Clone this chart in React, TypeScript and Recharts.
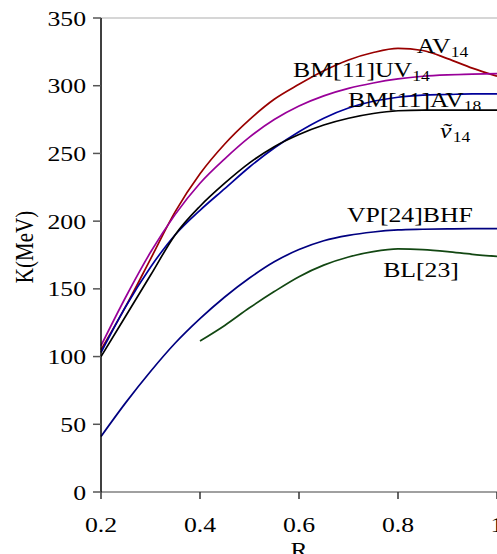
import React from "react";
import {
  LineChart,
  Line,
  XAxis,
  YAxis,
  ReferenceLine,
  ReferenceDot,
} from "recharts";

// R grid shared by every curve
const rValues = [0.2, 0.25, 0.3, 0.35, 0.4, 0.45, 0.5, 0.55, 0.6, 0.65, 0.7, 0.75, 0.8, 0.85, 0.9, 0.95, 1.0];

const av14 = [105, 137, 172, 207, 235, 257, 275, 290, 301, 311, 319, 324.5, 327.5, 326, 320, 313, 307];
const uv14 = [108, 144, 177, 205, 228, 246, 262, 275, 285, 292.5, 298, 302, 305, 307, 308, 308.5, 309];
const av18 = [103, 137, 166, 190, 208, 224, 240, 254, 266, 276, 283.5, 288.5, 291.5, 293, 293.5, 294, 294];
const v14 = [100, 130, 160, 190, 211, 228, 243, 255, 264, 271, 276, 279.5, 281.5, 282, 282, 282, 282];
const vpBhf = [41, 66, 89, 110, 128, 144, 158, 170, 179, 185.5, 189.5, 192, 193.5, 194, 194.3, 194.5, 194.5];
const bl23 = [null, null, null, null, 111.5, 123, 136, 148, 159, 167.5, 173.5, 177.5, 179.5, 179, 177.5, 175.5, 174];

const xTicks = [0.2, 0.4, 0.6, 0.8, 1];
const yTicks = [0, 50, 100, 150, 200, 250, 300, 350];

// curve name tags: text, subscript, anchor point in data units
const tags = [
  { main: "AV", sub: "14", r: 0.838, k: 324, italic: false },
  { main: "BM[11]UV", sub: "14", r: 0.588, k: 306.5, italic: false },
  { main: "BM[11]AV", sub: "18", r: 0.699, k: 284.5, italic: false },
  { main: "\u1E7D", sub: "14", r: 0.885, k: 261.5, italic: true },
  { main: "VP[24]BHF", sub: "", r: 0.697, k: 199.5, italic: false },
  { main: "BL[23]", sub: "", r: 0.77, k: 159, italic: false },
];

const data = rValues.map((r, i) => ({
  r,
  av14: av14[i],
  uv14: uv14[i],
  av18: av18[i],
  v14: v14[i],
  vpBhf: vpBhf[i],
  bl23: bl23[i],
}));

const FONT = "'Liberation Serif', 'Times New Roman', serif";
const STRETCH = 1.17;

const XTick = ({ x, y, payload }: any) => (
  <text
    transform={`translate(${x},${y + 31}) scale(${STRETCH},1)`}
    textAnchor="middle"
    fontFamily={FONT}
    fontSize={22}
    fill="#000"
  >
    {payload.value === 1 ? "1" : String(payload.value)}
  </text>
);

const YTick = ({ x, y, payload }: any) => (
  <text
    transform={`translate(${x},${y + 7.5}) scale(${STRETCH},1)`}
    textAnchor="end"
    fontFamily={FONT}
    fontSize={22}
    fill="#000"
  >
    {payload.value}
  </text>
);

const tagLabel = (tag: any) => (p: any) => {
  const vb = p.viewBox || {};
  const cx = (vb.x ?? 0) + (vb.width ?? 0) / 2;
  const cy = (vb.y ?? 0) + (vb.height ?? 0) / 2;
  return (
    <text
      transform={`translate(${cx},${cy}) scale(${STRETCH},1)`}
      fontFamily={FONT}
      fontSize={22}
      fontStyle={tag.italic ? "italic" : "normal"}
      fill="#000"
    >
      <tspan>{tag.main}</tspan>
      {tag.sub && (
        <tspan dy={4} dx={tag.italic ? 1 : 0} fontSize={15} fontStyle="normal">
          {tag.sub}
        </tspan>
      )}
    </text>
  );
};

export default function App() {
  return (
    <div
      style={{
        position: "absolute",
        left: 0,
        top: 0,
        width: 497,
        height: 554,
        overflow: "hidden",
        background: "#fff",
      }}
    >
      <LineChart
        width={520}
        height={554}
        data={data}
        margin={{ top: 18, right: 23, bottom: 0, left: 0 }}
      >
        <ReferenceLine y={350} stroke="#c8c8c8" strokeWidth={1.5} />
        <XAxis
          dataKey="r"
          type="number"
          domain={[0.2, 1]}
          ticks={xTicks}
          height={62}
          tickSize={7}
          tickMargin={2}
          axisLine={{ stroke: "#808080", strokeWidth: 1.5 }}
          tickLine={{ stroke: "#333", strokeWidth: 1.5 }}
          tick={<XTick />}
          label={(p: any) => {
            const vb = p.viewBox || {};
            return (
              <text
                transform={`translate(${vb.x + vb.width / 2},${vb.y + 65}) scale(${STRETCH},1)`}
                textAnchor="middle"
                fontFamily={FONT}
                fontSize={22}
                fill="#000"
              >
                R
              </text>
            );
          }}
        />
        <YAxis
          type="number"
          domain={[0, 350]}
          ticks={yTicks}
          width={101}
          tickSize={8}
          tickMargin={7}
          axisLine={{ stroke: "#000", strokeWidth: 1.5 }}
          tickLine={{ stroke: "#555", strokeWidth: 1.5 }}
          tick={<YTick />}
          label={(p: any) => {
            const vb = p.viewBox || {};
            return (
              <text
                transform={`translate(33,${vb.y + vb.height / 2 - 8}) scale(${STRETCH},1) rotate(-90)`}
                textAnchor="middle"
                fontFamily={FONT}
                fontSize={21}
                fill="#000"
              >
                K(MeV)
              </text>
            );
          }}
        />
        <Line type="monotone" dataKey="av14" stroke="#990000" strokeWidth={1.7} dot={false} isAnimationActive={false} />
        <Line type="monotone" dataKey="uv14" stroke="#990099" strokeWidth={1.7} dot={false} isAnimationActive={false} />
        <Line type="monotone" dataKey="av18" stroke="#000099" strokeWidth={1.7} dot={false} isAnimationActive={false} />
        <Line type="monotone" dataKey="v14" stroke="#000000" strokeWidth={1.7} dot={false} isAnimationActive={false} />
        <Line type="monotone" dataKey="vpBhf" stroke="#000080" strokeWidth={1.7} dot={false} isAnimationActive={false} />
        <Line type="monotone" dataKey="bl23" stroke="#124712" strokeWidth={1.7} dot={false} isAnimationActive={false} />
        {tags.map((t) => (
          <ReferenceDot
            key={t.main + t.sub}
            x={t.r}
            y={t.k}
            r={1}
            fill="none"
            stroke="none"
            label={tagLabel(t)}
          />
        ))}
      </LineChart>
    </div>
  );
}
